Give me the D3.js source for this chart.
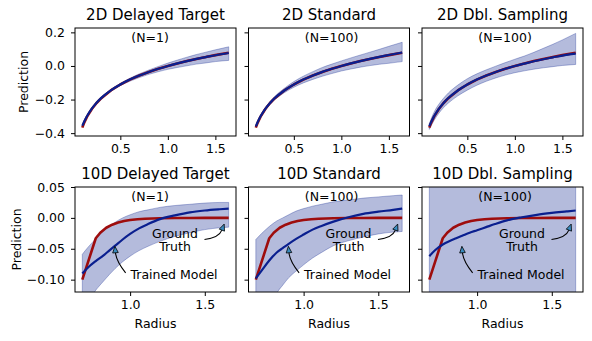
<!DOCTYPE html>
<html><head><meta charset="utf-8">
<script src="https://cdn.jsdelivr.net/npm/d3@7"></script>
<style>
body{margin:0;background:#fff}
svg{display:block}
text{font-family:"DejaVu Sans",sans-serif;fill:#000}
</style>
</head><body>
<svg id="c" width="592" height="341"></svg>
<script>
// ---------- data ----------
const topTitles = ["2D Delayed Target", "2D Standard", "2D Dbl. Sampling"];
const bottomTitles = ["10D Delayed Target", "10D Standard", "10D Dbl. Sampling"];
const nLabels = ["(N=1)", "(N=100)", "(N=100)"];

const topR = [0.1,0.12,0.15,0.2,0.25,0.3,0.4,0.5,0.6,0.7,0.8,0.9,1.0,1.1,1.2,1.3,1.4,1.5,1.64];
const topTruth = [-0.367,-0.3375,-0.3019,-0.2561,-0.2206,-0.1916,-0.1458,-0.1103,-0.0813,-0.0568,-0.0355,-0.0168,0,0.0152,0.0290,0.0418,0.0536,0.0645,0.0787];

const tlModel = [-0.356,-0.331,-0.298,-0.254,-0.219,-0.190,-0.145,-0.110,-0.081,-0.057,-0.036,-0.017,0.000,0.015,0.029,0.042,0.053,0.064,0.077];
const tlUpper = [-0.352,-0.327,-0.294,-0.250,-0.215,-0.185,-0.140,-0.104,-0.073,-0.047,-0.024,-0.003,0.017,0.035,0.052,0.068,0.082,0.096,0.114];
const tlLower = [-0.361,-0.336,-0.303,-0.259,-0.224,-0.196,-0.151,-0.117,-0.091,-0.069,-0.050,-0.034,-0.020,-0.009,0.001,0.011,0.018,0.026,0.033];

const tmModel = [-0.360,-0.334,-0.300,-0.255,-0.220,-0.191,-0.146,-0.110,-0.081,-0.057,-0.035,-0.017,0.000,0.015,0.029,0.042,0.054,0.065,0.080];
const tmUpper = [-0.356,-0.329,-0.294,-0.248,-0.212,-0.181,-0.133,-0.093,-0.061,-0.034,-0.009,0.011,0.030,0.048,0.065,0.082,0.099,0.117,0.141];
const tmLower = [-0.364,-0.339,-0.306,-0.262,-0.228,-0.201,-0.159,-0.127,-0.101,-0.080,-0.061,-0.045,-0.030,-0.018,-0.007,0.002,0.010,0.016,0.026];

const trModel = [-0.358,-0.333,-0.299,-0.255,-0.220,-0.191,-0.146,-0.110,-0.081,-0.057,-0.036,-0.017,0.000,0.014,0.028,0.040,0.051,0.062,0.074];
const trUpper = [-0.343,-0.313,-0.275,-0.228,-0.192,-0.161,-0.114,-0.076,-0.047,-0.023,-0.001,0.020,0.040,0.059,0.081,0.105,0.129,0.155,0.194];
const trLower = [-0.378,-0.355,-0.324,-0.282,-0.248,-0.221,-0.178,-0.144,-0.115,-0.091,-0.071,-0.054,-0.040,-0.029,-0.019,-0.011,-0.004,0.003,0.009];

const botTruthR = [0.68,0.77,0.80,0.84,0.88,0.92,0.96,1.0,1.05,1.1,1.2,1.3,1.4,1.5,1.66];
const botTruth = [-0.100,-0.033,-0.024,-0.016,-0.011,-0.0075,-0.005,-0.0035,-0.0023,-0.0015,-0.0007,-0.0003,-0.0001,0,0];

const botR = [0.68,0.72,0.77,0.82,0.86,0.90,0.95,1.0,1.06,1.12,1.2,1.3,1.4,1.5,1.6,1.66];
const blModel = [-0.090,-0.080,-0.070,-0.061,-0.053,-0.045,-0.035,-0.026,-0.017,-0.010,-0.002,0.004,0.009,0.012,0.014,0.015];
const blUpper = [-0.059,-0.047,-0.034,-0.022,-0.014,-0.007,0.000,0.005,0.010,0.013,0.017,0.020,0.022,0.024,0.025,0.025];
const blLower = [-0.150,-0.135,-0.117,-0.103,-0.092,-0.082,-0.071,-0.062,-0.053,-0.046,-0.038,-0.030,-0.024,-0.019,-0.016,-0.015];

const bmModel = [-0.098,-0.085,-0.069,-0.056,-0.049,-0.042,-0.034,-0.027,-0.019,-0.013,-0.006,0.001,0.0065,0.010,0.013,0.015];
const bmUpper = [-0.035,-0.025,-0.014,-0.005,0.000,0.005,0.011,0.015,0.019,0.022,0.026,0.029,0.032,0.034,0.036,0.037];
const bmLower = [-0.200,-0.175,-0.150,-0.122,-0.109,-0.097,-0.086,-0.076,-0.065,-0.056,-0.045,-0.037,-0.031,-0.026,-0.023,-0.022];

const brModel = [-0.062,-0.052,-0.043,-0.037,-0.033,-0.029,-0.024,-0.020,-0.015,-0.010,-0.004,0.001,0.005,0.008,0.0105,0.012];
const brUpper = [0.090,0.092,0.094,0.096,0.098,0.100,0.102,0.104,0.106,0.108,0.110,0.112,0.114,0.116,0.118,0.120];
const brLower = [-0.260,-0.255,-0.250,-0.245,-0.240,-0.235,-0.230,-0.225,-0.220,-0.215,-0.210,-0.205,-0.200,-0.195,-0.190,-0.185];

const topYDomain = [-0.417, 0.226];
const botYDomain = [-0.12, 0.05];
const topYTicks = [-0.4, -0.2, 0.0, 0.2];
const botYTicks = [-0.10, -0.05, 0.00, 0.05];
const topXTicks = [0.5, 1.0, 1.5];
const botXTicks = [1.0, 1.5];

// annotation arrows: tips and tails in data coords (bottom row)
const gtTip = [1.63, -0.010], gtTail = [1.498, -0.035];
const tmTip = [0.898, -0.046], tmTail = [0.970, -0.089];

// ---------- styling / layout ----------
const blue = "#0a1f8f", red = "#9e0d0d", bandC = "#061f8c";
const colX = [75, 248.5, 422], W = 161;
const rowY = [28, 187], rowH = [108, 105];

const rows = [
  {titles: topTitles, r: topR, truthR: topR, truth: topTruth,
   models: [tlModel, tmModel, trModel], uppers: [tlUpper, tmUpper, trUpper], lowers: [tlLower, tmLower, trLower],
   ydom: topYDomain, yticks: topYTicks, yfmt: ".1f", xticks: topXTicks, annot: false},
  {titles: bottomTitles, r: botR, truthR: botTruthR, truth: botTruth,
   models: [blModel, bmModel, brModel], uppers: [blUpper, bmUpper, brUpper], lowers: [blLower, bmLower, brLower],
   ydom: botYDomain, yticks: botYTicks, yfmt: ".2f", xticks: botXTicks, annot: true}
];

const svg = d3.select("#c");
const defs = svg.append("defs");

rows.forEach((row, ri) => {
  const H = rowH[ri], y0 = rowY[ri];
  const ext = d3.extent(row.r.concat(row.truthR));
  const pad = (ext[1] - ext[0]) * 0.05;
  const x = d3.scaleLinear().domain([ext[0] - pad, ext[1] + pad]).range([0, W]);
  const y = d3.scaleLinear().domain(row.ydom).range([H, 0]);

  for (let ci = 0; ci < 3; ci++) {
    const x0 = colX[ci];
    const g = svg.append("g").attr("transform", `translate(${x0},${y0})`);
    const cid = `clip${ri}${ci}`;
    defs.append("clipPath").attr("id", cid).append("rect").attr("width", W).attr("height", H);
    const plot = g.append("g").attr("clip-path", `url(#${cid})`);

    const band = row.r.map((r, i) => ({r, lo: row.lowers[ci][i], hi: row.uppers[ci][i]}));
    plot.append("path").datum(band)
      .attr("d", d3.area().x(d => x(d.r)).y0(d => y(d.lo)).y1(d => y(d.hi)).curve(d3.curveMonotoneX))
      .attr("fill", bandC).attr("fill-opacity", 0.3)
      .attr("stroke", bandC).attr("stroke-opacity", 0.3).attr("stroke-width", 1);

    const truth = row.truthR.map((r, i) => ({r, v: row.truth[i]}));
    plot.append("path").datum(truth)
      .attr("d", d3.line().x(d => x(d.r)).y(d => y(d.v)))
      .attr("fill", "none").attr("stroke", red).attr("stroke-width", 2.6)
      .attr("stroke-linejoin", "round").attr("stroke-linecap", "butt");

    const model = row.r.map((r, i) => ({r, v: row.models[ci][i]}));
    plot.append("path").datum(model)
      .attr("d", d3.line().x(d => x(d.r)).y(d => y(d.v)).curve(d3.curveMonotoneX))
      .attr("fill", "none").attr("stroke", blue).attr("stroke-width", 2.2)
      .attr("stroke-linejoin", "round");

    // axes
    const xa = g.append("g").attr("transform", `translate(0,${H})`)
      .call(d3.axisBottom(x).tickValues(row.xticks).tickFormat(d3.format(".1f")).tickSize(4).tickPadding(4).tickSizeOuter(0));
    const ya = g.append("g")
      .call(d3.axisLeft(y).tickValues(row.yticks).tickFormat(ci === 0 ? d3.format(row.yfmt) : () => "")
        .tickSize(4).tickPadding(6).tickSizeOuter(0));
    [xa, ya].forEach(a => {
      a.select(".domain").remove();
      a.selectAll("text").attr("font-size", 12.5).attr("font-family", '"DejaVu Sans",sans-serif').attr("fill", "#000");
      a.selectAll("line").attr("stroke", "#000").attr("stroke-width", 1);
    });

    g.append("rect").attr("width", W).attr("height", H)
      .attr("fill", "none").attr("stroke", "#000").attr("stroke-width", 1);

    g.append("text").attr("x", W / 2).attr("y", -8).attr("text-anchor", "middle")
      .attr("font-size", 15).text(row.titles[ci]);
    g.append("text").attr("x", W * 0.35).attr("y", 14).attr("font-size", 12.5).text(nLabels[ci]);

    if (row.annot) {
      g.append("text").attr("x", 100).attr("y", 50.5).attr("text-anchor", "middle").attr("font-size", 12.5).text("Ground");
      g.append("text").attr("x", 100).attr("y", 64).attr("text-anchor", "middle").attr("font-size", 12.5).text("Truth");
      g.append("text").attr("x", 99).attr("y", 92).attr("text-anchor", "middle").attr("font-size", 12.5).text("Trained Model");
      drawArrow(g, [x(gtTail[0]), y(gtTail[1])], [x(gtTip[0]), y(gtTip[1])], 0.3);
      drawArrow(g, [x(tmTail[0]), y(tmTail[1])], [x(tmTip[0]), y(tmTip[1])], -0.15);
    }

    if (ci === 0) {
      svg.append("text").attr("transform", `translate(${ri === 0 ? 28.3 : 21},${y0 + H / 2}) rotate(-90)`)
        .attr("text-anchor", "middle").attr("font-size", 12.5).text("Prediction");
    }
    if (ri === 1) {
      g.append("text").attr("x", W / 2).attr("y", H + 36).attr("text-anchor", "middle")
        .attr("font-size", 12.5).text("Radius");
    }
  }
});

function drawArrow(g, T, P, rad) {
  const mx = (T[0] + P[0]) / 2, my = (T[1] + P[1]) / 2;
  const dx = P[0] - T[0], dy = P[1] - T[1];
  const C = [mx - rad * dy, my + rad * dx];
  const ang = Math.atan2(P[1] - C[1], P[0] - C[0]);
  const L = 6.5, hw = 2.8;
  const base = [P[0] - L * Math.cos(ang), P[1] - L * Math.sin(ang)];
  const p = d3.path();
  p.moveTo(T[0], T[1]);
  p.quadraticCurveTo(C[0], C[1], base[0], base[1]);
  g.append("path").attr("d", p.toString()).attr("fill", "none").attr("stroke", "#000").attr("stroke-width", 1.1);
  const n = [-Math.sin(ang), Math.cos(ang)];
  const tri = [P, [base[0] + hw * n[0], base[1] + hw * n[1]], [base[0] - hw * n[0], base[1] - hw * n[1]]];
  g.append("path").attr("d", "M" + tri.map(q => q.join(",")).join("L") + "Z")
    .attr("fill", "#3a8cbf").attr("stroke", "#000").attr("stroke-width", 0.8).attr("stroke-linejoin", "miter");
}
</script>
</body></html>
